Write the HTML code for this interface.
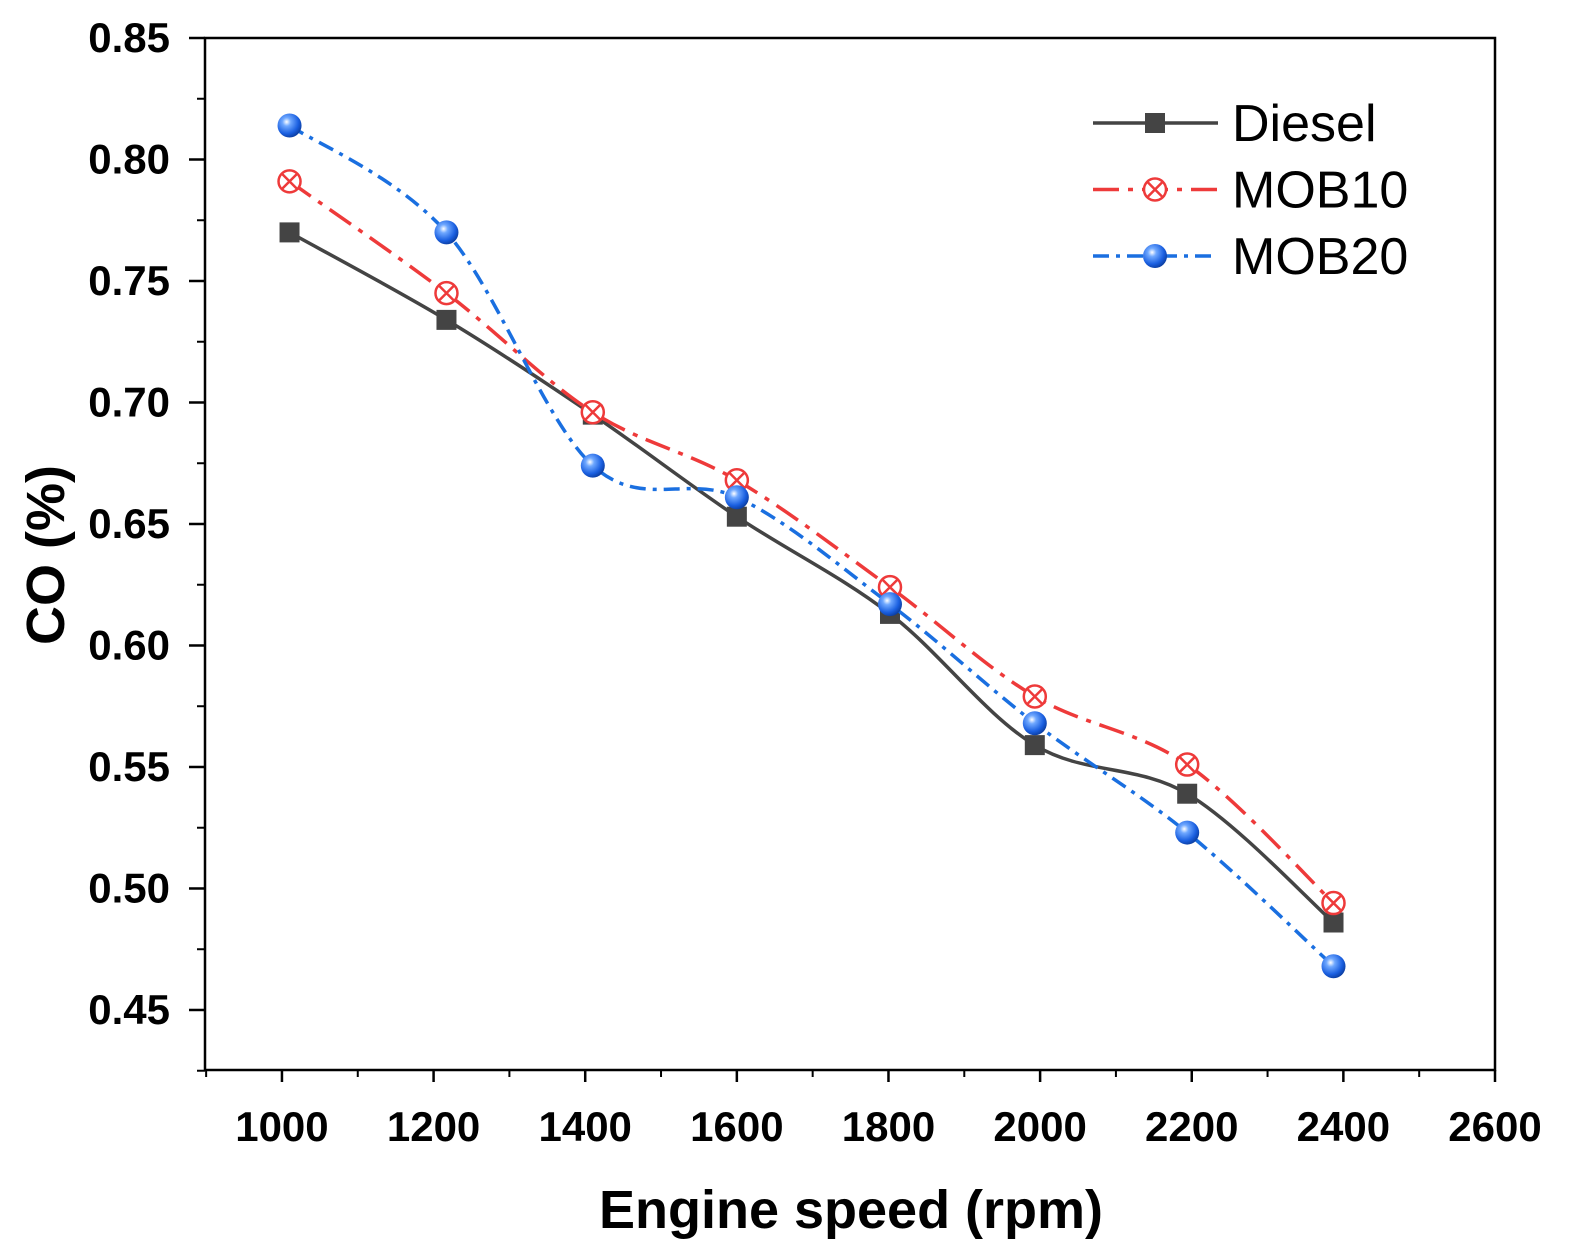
<!DOCTYPE html>
<html><head><meta charset="utf-8"><style>
body{margin:0;background:#fff}
svg{display:block;font-family:"Liberation Sans",Arial,sans-serif}
</style></head><body>
<svg id="chart" width="1570" height="1260" viewBox="0 0 1570 1260">
<defs>
<radialGradient id="ball" cx="0.38" cy="0.35" r="0.7">
<stop offset="0" stop-color="#ffffff"/><stop offset="0.25" stop-color="#6fa8ff"/><stop offset="0.7" stop-color="#1a5fe0"/><stop offset="1" stop-color="#0a3a9a"/>
</radialGradient>
</defs>
<g id="axes"></g>
<g id="series"></g>
<g id="legend"></g>
</svg>
<script>
const speeds=[1010,1217,1410,1600,1802,1993,2194,2387];
const diesel=[0.770,0.734,0.695,0.653,0.613,0.559,0.539,0.486];
const mob10=[0.791,0.745,0.696,0.668,0.624,0.579,0.551,0.494];
const mob20=[0.814,0.770,0.674,0.661,0.617,0.568,0.523,0.468];
const xTicks=[1000,1200,1400,1600,1800,2000,2200,2400,2600];
const yTicks=[0.45,0.50,0.55,0.60,0.65,0.70,0.75,0.80,0.85];
const seriesNames=["Diesel","MOB10","MOB20"];

const L=205,R=1495,T=38,B=1070;
const xMin=898.5,xMax=2600,yMin=0.4253,yMax=0.85;
const X=v=>L+(v-xMin)/(xMax-xMin)*(R-L);
const Y=v=>B-(v-yMin)/(yMax-yMin)*(B-T);
const NS="http://www.w3.org/2000/svg";
function mk(tag,attrs,parent){const e=document.createElementNS(NS,tag);for(const k in attrs)e.setAttribute(k,attrs[k]);parent.appendChild(e);return e;}
const ax=document.getElementById('axes');
let r=mk('rect',{x:L,y:T,width:R-L,height:B-T,fill:'none',stroke:'#000','stroke-width':2.5},ax);


xTicks.forEach((v,i)=>{
 const x=X(v);
 mk('line',{x1:x,x2:x,y1:B,y2:B+12,stroke:'#000','stroke-width':2.5},ax);
 if(i<xTicks.length-1){mk('line',{x1:X(v+100),x2:X(v+100),y1:B,y2:B+7,stroke:'#000','stroke-width':2},ax);}
 let tx=mk('text',{x:x,y:1141,'text-anchor':'middle','font-size':42,'font-weight':'bold'},ax);tx.textContent=v;
 
 
});
mk('line',{x1:X(900),x2:X(900),y1:B,y2:B+7,stroke:'#000','stroke-width':2},ax);
yTicks.forEach((v,i)=>{
 const y=Y(v);
 mk('line',{x1:L-16,x2:L,y1:y,y2:y,stroke:'#000','stroke-width':2.5},ax);
 mk('line',{x1:L-8,x2:L,y1:Y(v-0.025),y2:Y(v-0.025),stroke:'#000','stroke-width':2},ax);
 let tx=mk('text',{x:170,y:y+14,'text-anchor':'end','font-size':42,'font-weight':'bold'},ax);tx.textContent=v.toFixed(2);
 
 
});
let xt=mk('text',{x:851,y:1228,'text-anchor':'middle','font-size':54,'font-weight':'bold'},ax);xt.textContent='Engine speed (rpm)';


let yt=mk('text',{x:0,y:0,'text-anchor':'middle','font-size':54,'font-weight':'bold',transform:'translate(64,555) rotate(-90)'},ax);yt.textContent='CO (%)';



function spline(pts){
 let d=`M${pts[0][0]},${pts[0][1]}`;
 for(let i=0;i<pts.length-1;i++){
  const p0=pts[i-1]||pts[i],p1=pts[i],p2=pts[i+1],p3=pts[i+2]||p2;
  const c1=[p1[0]+(p2[0]-p0[0])/6,p1[1]+(p2[1]-p0[1])/6];
  const c2=[p2[0]-(p3[0]-p1[0])/6,p2[1]-(p3[1]-p1[1])/6];
  d+=` C${c1[0]},${c1[1]} ${c2[0]},${c2[1]} ${p2[0]},${p2[1]}`;
 }
 return d;
}
const styles=[
 {color:'#444',dash:'',marker:'square'},
 {color:'#ee3a3a',dash:'26 9 5 9',marker:'xcircle'},
 {color:'#1a6fe0',dash:'16 7 4 7',marker:'ball'}];
function marker(type,x,y,parent){
 let m;
 if(type==='square') m=mk('rect',{x:x-10,y:y-10,width:20,height:20,fill:'#444'},parent);
 else if(type==='xcircle'){m=mk('g',{},parent);
  mk('circle',{cx:x,cy:y,r:11,fill:'#fff',stroke:'#ee3a3a','stroke-width':2.5},m);
  mk('path',{d:`M${x-8},${y-8}L${x+8},${y+8}M${x+8},${y-8}L${x-8},${y+8}`,stroke:'#ee3a3a','stroke-width':2.5},m);}
 else m=mk('circle',{cx:x,cy:y,r:12,fill:'url(#ball)'},parent);
 return m;
}
const sg=document.getElementById('series');
[diesel,mob10,mob20].forEach((vals,si)=>{
 const st=styles[si];
 const g=mk('g',{},sg);
 
 
 const pts=speeds.map((s,i)=>[X(s),Y(vals[i])]);
 mk('path',{d:spline(pts),fill:'none',stroke:st.color,'stroke-width':3.5,'stroke-dasharray':st.dash},g);
 pts.forEach(p=>{const m=marker(st.marker,p[0],p[1],g);
  
  });
});
const lg=document.getElementById('legend');
seriesNames.forEach((n,i)=>{
 const y=123+i*66.5;const st=styles[i];
 const g=mk('g',{},lg);
 
 
 mk('line',{x1:1093,x2:1218,y1:y,y2:y,stroke:st.color,'stroke-width':3.5,'stroke-dasharray':st.dash},g);
 marker(st.marker,1155,y,g);
 const t=mk('text',{x:1232,y:y+18,'font-size':52},g);t.textContent=n;
});
</script>
</body></html>
